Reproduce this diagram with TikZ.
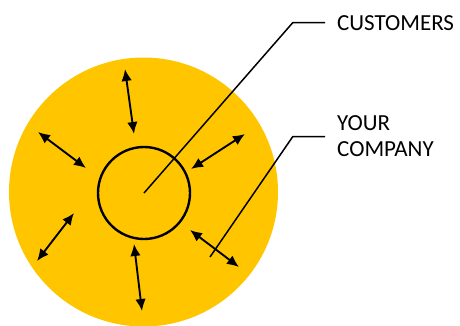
\documentclass[tikz,border=0pt]{standalone}
\usepackage{fontspec}
\setmainfont{Carlito}
\usetikzlibrary{arrows.meta}
\definecolor{gold}{HTML}{FFC600}
\definecolor{ink}{HTML}{000000}
\tikzset{
  twoway/.style={{Latex[length=12pt,width=10.5pt]}-{Latex[length=12pt,width=10.5pt]}, line width=1.9pt, black},
  leader/.style={line width=1.5pt, black},
  lbl/.style={anchor=west, font=\fontsize{23}{26}\selectfont, text=ink, inner sep=0pt, align=left}
}
\begin{document}
\begin{tikzpicture}[x=1pt,y=-1pt]
\useasboundingbox (0,0) rectangle (460,325);
\clip (0,0) rectangle (460,325);
\node[circle, fill=gold, minimum size=269pt, inner sep=0pt] (outer) at (143.5,192) {};
\node[circle, draw=black, line width=2.4pt, minimum size=92pt, inner sep=0pt] (inner) at (144,193) {};
% double arrows
\coordinate (a1s) at (125,69);  \coordinate (a1e) at (134,134);
\coordinate (a2s) at (38,132);  \coordinate (a2e) at (86,168);
\coordinate (a3s) at (245,134); \coordinate (a3e) at (191,169);
\coordinate (a4s) at (74,213);  \coordinate (a4e) at (37,261);
\coordinate (a5s) at (134,244); \coordinate (a5e) at (142,311);
\coordinate (a6s) at (190,230); \coordinate (a6e) at (239,267);
\foreach \i in {1,...,6} \draw[twoway] (a\i s) -- (a\i e);
% labels
\node[lbl] (cust) at (337,23) {CUSTOMERS};
\node[lbl] (comp) at (337,136) {YOUR\\COMPANY};
% leaders
\coordinate (c0) at (144,193);
\coordinate (c1) at (292.7,22.7);
\coordinate (c2) at (325,22.7);
\draw[leader] (c0) -- (c1) -- (c2);
\coordinate (y0) at (210,257);
\coordinate (y1) at (292.7,136.7);
\coordinate (y2) at (325,136.7);
\draw[leader] (y0) -- (y1) -- (y2);
\end{tikzpicture}
\end{document}
